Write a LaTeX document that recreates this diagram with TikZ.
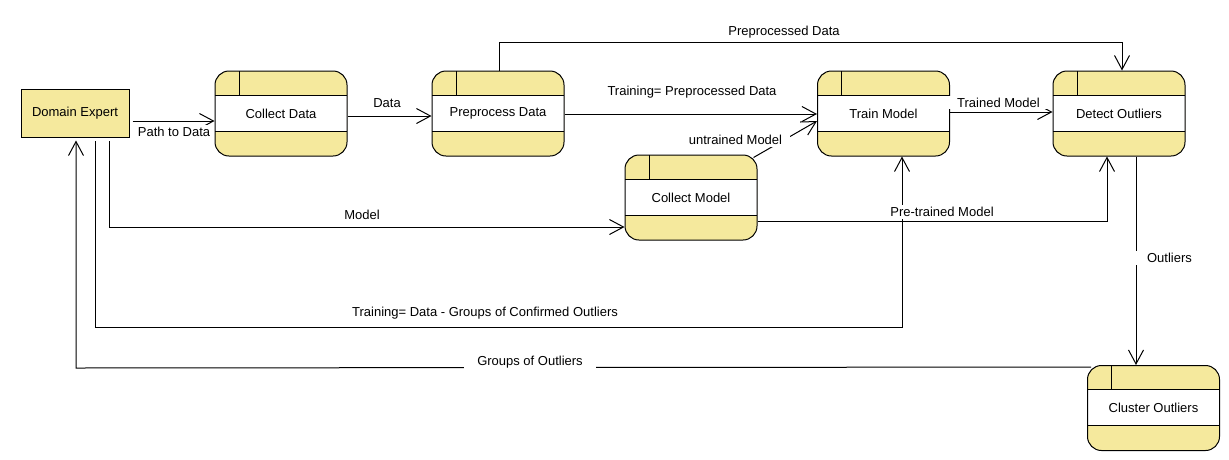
\documentclass[tikz,border=0pt]{standalone}
\usepackage{fontspec}
\setmainfont{Liberation Sans}
\usetikzlibrary{arrows.meta}
\definecolor{procy}{RGB}{245,233,157}
\newcommand\labfont{\fontsize{13pt}{15pt}\selectfont}
\tikzset{
  proc/.style={draw, line width=1pt, fill=procy, rounded corners=14pt,
    minimum width=132pt, minimum height=85pt, inner sep=0pt, font=\labfont,
    path picture={
      \fill[white, sharp corners] ([yshift=-24pt]path picture bounding box.north west) rectangle ([yshift=-60pt]path picture bounding box.north east);
      \draw[line width=1pt, sharp corners, fill=none] ([yshift=-24pt]path picture bounding box.north west) -- ([yshift=-24pt]path picture bounding box.north east);
      \draw[line width=1pt, sharp corners, fill=none] ([yshift=-60pt]path picture bounding box.north west) -- ([yshift=-60pt]path picture bounding box.north east);
      \draw[line width=1pt, sharp corners, fill=none] ([xshift=24pt]path picture bounding box.north west) -- ([xshift=24pt,yshift=-24pt]path picture bounding box.north west);
    }},
  ext/.style={draw, line width=1pt, fill=procy, minimum width=108pt, minimum height=48pt, inner sep=0pt, font=\labfont},
  flow/.style={line width=1pt, -{Straight Barb[length=14pt,width=15pt,line width=1pt]}},
  lbl/.style={fill=white, inner xsep=3pt, inner ysep=2pt, font=\labfont}
}
\begin{document}
\begin{tikzpicture}[x=1pt,y=-1pt]
\fill[white] (0,0) rectangle (1229,459);
\useasboundingbox (0,0) rectangle (1229,459);

\node[ext] (de) at (75,113) {Domain Expert};
\node[proc] (cd) at (281,113.5) {Collect Data};
\node[proc] (pd) at (498,113.5) {Preprocess Data};
\node[proc] (tm) at (883.5,113.5) {Train Model};
\node[proc] (do) at (1119,113.5) {Detect Outliers};
\node[proc] (cm) at (691,197.5) {Collect Model};
\node[proc] (co) at (1153.5,408) {Cluster Outliers};

\draw[flow, shorten <=3pt] (de.east |- 0,121) -- (cd.west |- 0,121);
\draw[flow] (cd.east |- 0,116) -- (pd.west |- 0,116);
\draw[flow] (pd.east |- 0,114) -- (tm.west |- 0,114);
\draw[flow] (499,0 |- pd.north) -- (499,42) -- (1122,42) -- (1122,0 |- do.north);
\draw[flow] (tm.east |- 0,112) -- (do.west |- 0,112);
\draw[flow] (cm.north east) ++(-4,3) -- (tm.west |- 0,121);
\draw[flow, shorten <=3.5pt] (de.south -| 109,0) -- (109,227) -- (cm.west |- 0,227);
\draw[flow] (cm.east |- 0,221) -- (1107,221) -- (1107,0 |- do.south);
\draw[flow, shorten <=3.5pt] (de.south -| 95,0) -- (95,327) -- (902,327) -- (902,0 |- tm.south);
\draw[flow] (1136,0 |- do.south) -- (1136,0 |- co.north);
\draw[flow, shorten >=3pt] (co.north west) ++(4,2) -- (76,368) -- (de.south -| 76,0);

\node[lbl] (lpath) at (174,131.5) {Path to Data};
\node[lbl] (ldata) at (387,103) {Data};
\node[lbl] (ltrpre) at (692,92.5) {Training= Preprocessed Data};
\node[lbl] (lpre) at (784,32) {Preprocessed Data};
\node[lbl, inner xsep=12pt] (ltrained) at (998.5,102.5) {Trained Model};
\node[lbl, inner xsep=8pt] (luntr) at (735.5,140) {untrained Model};
\node[lbl] (lmodel) at (362,215) {Model};
\node[lbl] (lpret) at (942,212) {Pre-trained Model};
\node[lbl] (ltrd) at (485,313) {Training= Data - Groups of Confirmed Outliers};
\node[lbl, inner xsep=12pt] (lout) at (1169.5,258) {Outliers};
\node[lbl, inner xsep=13pt] (lgroups) at (530,362.5) {Groups of Outliers};
\end{tikzpicture}
\end{document}
